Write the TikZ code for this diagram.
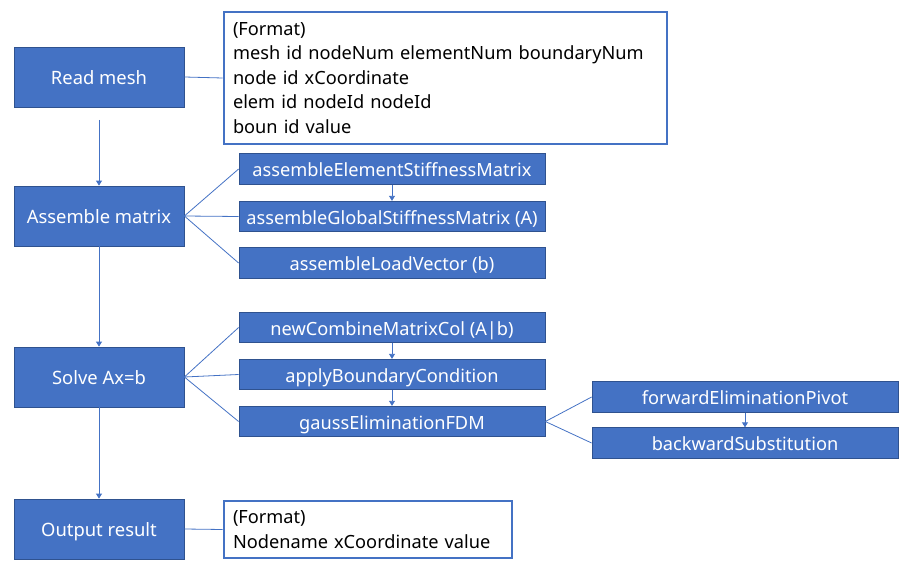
\documentclass[tikz,border=0pt]{standalone}
\usepackage{fontspec}
\setmainfont{Noto Sans}
\usetikzlibrary{arrows.meta}
\definecolor{ofblue}{HTML}{4472C4}
\definecolor{ofdark}{HTML}{2F528F}
\tikzset{
  bluebox/.style={draw=ofdark, line width=0.8pt, fill=ofblue, text=white, inner sep=0pt, text height=15.5pt, text depth=0pt, font=\fontsize{18.2}{22}\selectfont},
  mainbox/.style={bluebox, minimum width=170pt, minimum height=60pt, font=\fontsize{18.4}{22}\selectfont},
  subbox/.style={bluebox, minimum width=306pt, minimum height=30.5pt},
  fmtbox/.style={draw=ofblue, line width=2.6pt, fill=white, inner sep=0pt, align=left, font=\fontsize{18.2}{24.5}\selectfont},
  conn/.style={draw=ofblue, line width=0.8pt},
  arr/.style={conn, -{Triangle[length=5pt,width=6pt]}}
}
\begin{document}
\begin{tikzpicture}[x=1pt,y=-1pt]
\useasboundingbox (0,0) rectangle (913,575);
% main boxes
\node[mainbox] (rm) at (99,77) {Read mesh};
\node[mainbox] (am) at (99,216) {Assemble matrix};
\node[mainbox] (sv) at (99,377) {Solve Ax=b};
\node[mainbox] (out) at (99,529) {Output result};
% format boxes
\node[fmtbox, minimum width=443pt, minimum height=132pt, text width=425pt] (f1) at (445.5,78)
 {(Format)\\mesh id nodeNum elementNum boundaryNum\\node id xCoordinate\\elem id nodeId nodeId\\boun id value};
\node[fmtbox, minimum width=288pt, minimum height=57pt, text width=270pt] (f2) at (368,529.5)
 {(Format)\\Nodename xCoordinate value};
% assemble sub-boxes
\node[subbox] (ae) at (392,169) {assembleElementStiffnessMatrix};
\node[subbox] (ag) at (392,216.5) {assembleGlobalStiffnessMatrix (A)};
\node[subbox] (al) at (392,263) {assembleLoadVector (b)};
% solve sub-boxes
\node[subbox] (nc) at (392,327.5) {newCombineMatrixCol (A|b)};
\node[subbox] (ab) at (392,374.5) {applyBoundaryCondition};
\node[subbox] (ge) at (392,421.5) {gaussEliminationFDM};
% gauss sub-boxes
\node[subbox] (fe) at (745,397) {forwardEliminationPivot};
\node[subbox] (bs) at (745,443) {backwardSubstitution};
% connectors
\coordinate (rmstart) at (99,120);
\draw[arr] (rmstart) -- (am.north);
\draw[arr] (am.south) -- (sv.north);
\draw[arr] (sv.south) -- (out.north);
\draw[conn] (rm.east) -- (f1.west);
\draw[conn] (out.east) -- (f2.west);
\draw[conn] (am.east) -- (ae.west);
\draw[conn] (am.east) -- (ag.west);
\draw[conn] (am.east) -- (al.west);
\draw[arr] (ae.south) -- (ag.north);
\draw[conn] (sv.east) -- (nc.west);
\draw[conn] (sv.east) -- (ab.west);
\draw[conn] (sv.east) -- (ge.west);
\draw[arr] (nc.south) -- (ab.north);
\draw[arr] (ab.south) -- (ge.north);
\draw[conn] (ge.east) -- (fe.west);
\draw[conn] (ge.east) -- (bs.west);
\draw[arr] (fe.south) -- (bs.north);
\end{tikzpicture}
\end{document}
